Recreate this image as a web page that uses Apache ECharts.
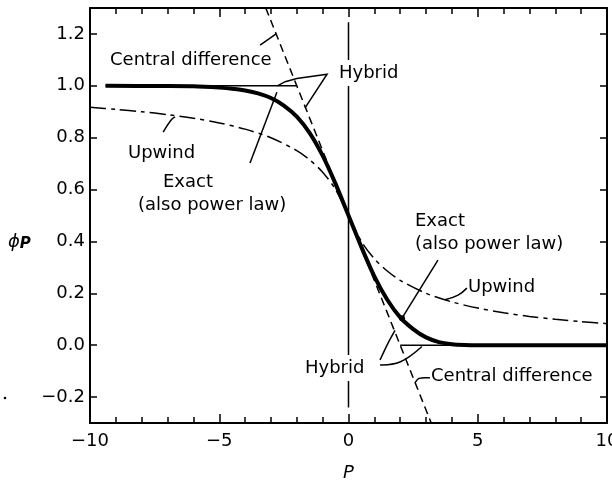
<!DOCTYPE html>
<html>
<head>
<meta charset="utf-8">
<script src="https://cdn.jsdelivr.net/npm/echarts@6/dist/echarts.min.js"></script>
<style>
html,body{margin:0;padding:0;background:#fff;}
#chart{width:612px;height:480px;}
</style>
</head>
<body>
<div id="chart"></div>
<script>
// ---- data ----
var exactP   = [-9.4, -7, -6, -5, -4.5, -4, -3.5, -3, -2.5, -2, -1.5, -1, -0.5, 0, 0.5, 1, 1.5, 2, 2.5, 3, 3.5, 4, 4.5, 5, 6, 7, 10];
var exactPhi = [1.0, 0.999, 0.998, 0.993, 0.989, 0.982, 0.971, 0.953, 0.924, 0.881, 0.818, 0.731, 0.622, 0.5, 0.378, 0.265, 0.175, 0.107, 0.062, 0.03, 0.012, 0.004, 0.001, 0.0, 0.0, 0.0, 0.0];

var upwindP   = [-10, -9, -8, -7, -6, -5, -4, -3, -2, -1.5, -1, -0.5, 0, 0.5, 1, 1.5, 2, 3, 4, 5, 6, 7, 8, 9, 10];
var upwindPhi = [0.917, 0.909, 0.9, 0.889, 0.875, 0.857, 0.833, 0.8, 0.75, 0.714, 0.667, 0.6, 0.5, 0.4, 0.333, 0.286, 0.25, 0.2, 0.167, 0.143, 0.125, 0.111, 0.1, 0.091, 0.083];

var centralP   = [-3.2, 3.2];
var centralPhi = [1.3, -0.3];

var hybridLeftP    = [-9.4, -2];
var hybridLeftPhi  = [1.0, 1.0];
var hybridRightP   = [2, 10];
var hybridRightPhi = [0.0, 0.0];

var refP   = [0, 0];
var refPhi = [1.245, -0.24];

var yTickValues = [-0.2, 0.0, 0.2, 0.4, 0.6, 0.8, 1.0, 1.2];

// annotation leader lines, in data coordinates [P, phi]
var leaders = [
  {pts: [[-3.42, 1.157], [-2.80, 1.20]]},
  {pts: [[-2.75, 1.0], [-2.45, 1.016], [-2.0, 1.028], [-0.83, 1.045], [-1.68, 0.915]]},
  {pts: [[-3.81, 0.702], [-2.77, 0.975]]},
  {pts: [[-7.17, 0.821], [-6.87, 0.867], [-6.71, 0.880]], smooth: 0.4},
  {pts: [[3.46, 0.328], [2.07, 0.104]], dot: true},
  {pts: [[4.58, 0.220], [4.24, 0.193], [3.73, 0.175]], smooth: 0.4},
  {pts: [[1.22, -0.057], [1.53, 0.008], [1.80, 0.057]], smooth: 0.3},
  {pts: [[1.22, -0.076], [1.99, -0.065], [2.84, -0.005]], smooth: 0.4},
  {pts: [[3.15, -0.126], [2.73, -0.128], [2.57, -0.145]], smooth: 0.3}
];

// ---- helpers ----
function zip(a, b) { return a.map(function (v, i) { return [v, b[i]]; }); }
function fmt(v, d) {
  var s = d === undefined ? String(Math.abs(v)) : Math.abs(v).toFixed(d);
  return (v < 0 ? '\u2212' : '') + s;
}

var FONT = 'DejaVu Sans';
var chart = echarts.init(document.getElementById('chart'), null, {renderer: 'canvas'});

var axisLineStyle = {color: '#000', width: 2};
var tickLine = {color: '#000', width: 1.5};

var option = {
  animation: false,
  backgroundColor: '#fff',
  grid: {left: 90, right: 5, top: 8, bottom: 57, containLabel: false, outerBoundsMode: 'none'},
  xAxis: [
    {
      type: 'value', position: 'bottom', min: -10, max: 10, interval: 5,
      name: 'P', nameLocation: 'middle', nameGap: 41,
      nameTextStyle: {fontFamily: FONT, fontStyle: 'italic', fontSize: 18, color: '#000'},
      axisLine: {show: true, onZero: false, lineStyle: axisLineStyle},
      axisTick: {show: true, inside: true, length: 9, lineStyle: tickLine},
      minorTick: {show: true, splitNumber: 5, length: 6, lineStyle: tickLine},
      axisLabel: {
        show: true, margin: 9, fontFamily: FONT, fontSize: 18, color: '#000',
        showMinLabel: true, showMaxLabel: true,
        formatter: function (v) { return fmt(v); }
      },
      splitLine: {show: false}, minorSplitLine: {show: false}
    },
    {
      type: 'value', position: 'top', min: -10, max: 10, interval: 5,
      axisLine: {show: true, onZero: false, lineStyle: axisLineStyle},
      axisTick: {show: true, inside: true, length: 9, lineStyle: tickLine},
      minorTick: {show: true, splitNumber: 5, length: 6, lineStyle: tickLine},
      axisLabel: {show: false},
      splitLine: {show: false}, minorSplitLine: {show: false}
    }
  ],
  yAxis: [
    {
      type: 'value', position: 'left', min: -0.3, max: 1.3,
      axisLine: {show: true, onZero: false, lineStyle: axisLineStyle},
      axisTick: {show: true, inside: true, length: 7, lineStyle: tickLine, customValues: yTickValues},
      axisLabel: {
        show: true, margin: 5, fontFamily: FONT, fontSize: 18, color: '#000',
        customValues: yTickValues,
        formatter: function (v) { return fmt(v, 1); }
      },
      splitLine: {show: false}
    },
    {
      type: 'value', position: 'right', min: -0.3, max: 1.3,
      axisLine: {show: true, onZero: false, lineStyle: axisLineStyle},
      axisTick: {show: true, inside: true, length: 7, lineStyle: tickLine, customValues: yTickValues},
      axisLabel: {show: false},
      splitLine: {show: false}
    }
  ],
  series: [
    {
      name: 'P = 0', type: 'line', xAxisIndex: 0, yAxisIndex: 0, data: zip(refP, refPhi),
      symbol: 'none', lineStyle: {color: '#000', width: 1.5}, z: 2
    },
    {
      name: 'Upwind', type: 'line', data: zip(upwindP, upwindPhi), smooth: 0.3,
      symbol: 'none', lineStyle: {color: '#000', width: 1.5, type: [16, 5, 4, 5]}, z: 3
    },
    {
      name: 'Central difference', type: 'line', data: zip(centralP, centralPhi),
      symbol: 'none', lineStyle: {color: '#000', width: 1.5, type: [8, 5]}, z: 3
    },
    {
      name: 'Hybrid', type: 'line', data: zip(hybridLeftP, hybridLeftPhi),
      symbol: 'none', lineStyle: {color: '#000', width: 1.5}, z: 3
    },
    {
      name: 'Hybrid ', type: 'line', data: zip(hybridRightP, hybridRightPhi),
      symbol: 'none', lineStyle: {color: '#000', width: 1.5}, z: 3
    },
    {
      name: 'Exact', type: 'line', data: zip(exactP, exactPhi), smooth: 0.2,
      symbol: 'none', lineStyle: {color: '#000', width: 4}, z: 4
    }
  ]
};
chart.setOption(option);

// annotations
function txt(s, x, y, bg) {
  var st = {text: s, x: 0, y: 0, fill: '#000', font: '18px "' + FONT + '"', textAlign: 'left', textVerticalAlign: 'middle'};
  if (bg) { st.backgroundColor = '#fff'; st.padding = [4, 2, 4, 2]; }
  return {type: 'text', x: x, y: y, z: 100, style: st};
}
var g = [];
leaders.forEach(function (l) {
  var pts = l.pts.map(function (p) { return chart.convertToPixel({gridIndex: 0}, p); });
  g.push({type: 'polyline', z: 99, shape: {points: pts, smooth: l.smooth || 0},
          style: {stroke: '#000', lineWidth: 1.5, fill: null}});
  if (l.dot) {
    var e = pts[pts.length - 1];
    g.push({type: 'circle', z: 99, shape: {cx: e[0], cy: e[1], r: 3}, style: {fill: '#000'}});
  }
});
g.push(txt('Central difference', 110, 60));
g.push(txt('Hybrid', 337, 73, true));
g.push(txt('Upwind', 128, 153));
g.push(txt('Exact', 163, 182));
g.push(txt('(also power law)', 138, 205));
g.push(txt('Exact', 415, 221));
g.push(txt('(also power law)', 415, 244));
g.push(txt('Upwind', 468, 287));
g.push(txt('Hybrid', 303, 368, true));
g.push(txt('Central difference', 431, 376));
g.push({
  type: 'text', x: 8, y: 242, z: 100,
  style: {
    text: '{a|\u03D5}{b|P}', x: 0, y: 0, textAlign: 'left', textVerticalAlign: 'middle',
    rich: {
      a: {fontFamily: FONT, fontStyle: 'italic', fontSize: 18, fill: '#000', color: '#000'},
      b: {fontFamily: FONT, fontStyle: 'italic', fontWeight: 'bold', fontSize: 15, fill: '#000', color: '#000', padding: [5, 0, 0, 0]}
    }
  }
});
g.push({type: 'circle', z: 100, shape: {cx: 5, cy: 398, r: 1.3}, style: {fill: '#000'}});
chart.setOption({graphic: g});
</script>
</body>
</html>
